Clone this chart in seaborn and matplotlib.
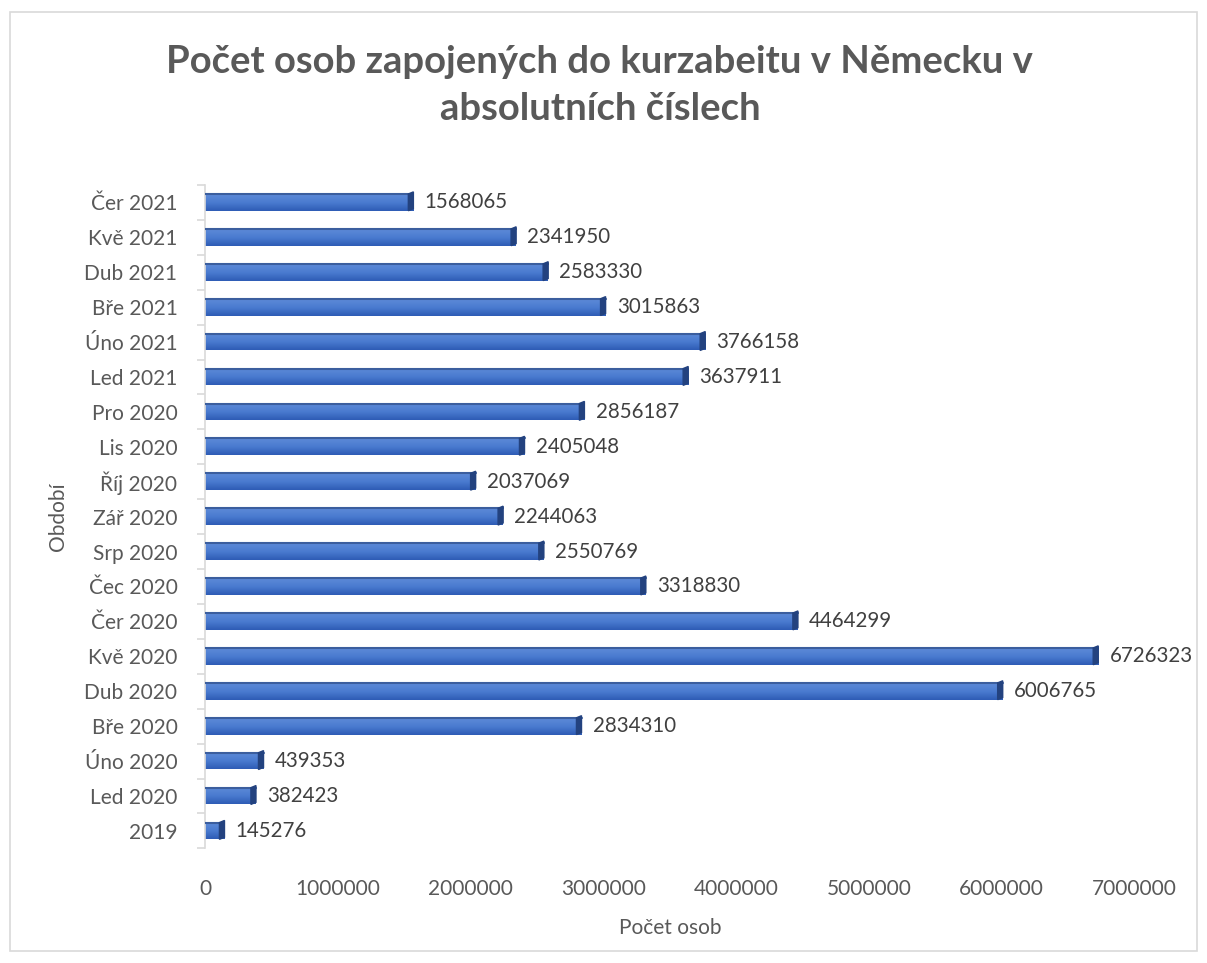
import numpy as np
import pandas as pd
import seaborn as sns
import matplotlib.pyplot as plt
from matplotlib.patches import Rectangle, Polygon
from matplotlib.colors import LinearSegmentedColormap

periods = ["Čer 2021", "Kvě 2021", "Dub 2021", "Bře 2021", "Úno 2021", "Led 2021",
           "Pro 2020", "Lis 2020", "Říj 2020", "Zář 2020", "Srp 2020", "Čec 2020",
           "Čer 2020", "Kvě 2020", "Dub 2020", "Bře 2020", "Úno 2020", "Led 2020", "2019"]
persons = [1568065, 2341950, 2583330, 3015863, 3766158, 3637911,
           2856187, 2405048, 2037069, 2244063, 2550769, 3318830,
           4464299, 6726323, 6006765, 2834310, 439353, 382423, 145276]
x_ticks = [0, 1000000, 2000000, 3000000, 4000000, 5000000, 6000000, 7000000]

df = pd.DataFrame({"Období": periods, "Počet osob": persons})

sns.set_theme(style="white")
plt.rcParams["font.family"] = ["Lato", "DejaVu Sans"]
text_col = "#595959"

fig = plt.figure(figsize=(12.07, 9.63), dpi=100)
ax = fig.add_axes([0.170, 0.119, 0.770, 0.689])

sns.barplot(data=df, x="Počet osob", y="Období", orient="h", ax=ax,
            color="#4472C4", width=0.48, saturation=1)

# Excel-like 3D look: vertical gradient inside each bar + dark end cap
grad = LinearSegmentedColormap.from_list("bar", ["#5D8AD8", "#4A7BD0", "#2E5CB5"])
depth = 38000
for p, v in zip(ax.patches, persons):
    x0, y0 = p.get_x(), p.get_y()
    w, h = p.get_width(), p.get_height()
    p.set_facecolor("none")
    p.set_edgecolor("none")
    img = ax.imshow(np.linspace(0, 1, 50).reshape(-1, 1), cmap=grad, aspect="auto",
                    extent=(x0, x0 + w, y0 + h, y0), zorder=2)
    img.set_clip_path(Rectangle((x0, y0), w, h, transform=ax.transData))
    ax.plot([x0, x0 + w], [y0, y0], color="#3B5E9E", lw=1.5, zorder=3)
    cap = Polygon([(x0 + w - depth, y0), (x0 + w, y0 - 0.06), (x0 + w, y0 + h - 0.06),
                   (x0 + w - depth, y0 + h)], closed=True, color="#23427F", zorder=3)
    ax.add_patch(cap)
    ax.text(v + 85000, p.get_y() + h / 2, str(v), va="center", ha="left",
            fontsize=14.8, color="#404040")

ax.set_xlim(0, 7000000)
ax.set_ylim(len(periods) - 0.5, -0.5)
ax.set_xticks(x_ticks)
ax.set_xticklabels([str(t) for t in x_ticks], fontsize=15, color=text_col)
ax.tick_params(axis="x", length=0, pad=22)
ax.tick_params(axis="y", which="major", length=0, pad=20, labelsize=15, labelcolor=text_col)
ax.set_yticks(np.arange(-0.5, len(periods)), minor=True)
ax.tick_params(axis="y", which="minor", length=6, width=1.2, color="#D9D9D9", left=True)

for s in ["top", "right", "bottom"]:
    ax.spines[s].set_visible(False)
ax.spines["left"].set_color("#D9D9D9")
ax.spines["left"].set_linewidth(1.2)

ax.set_xlabel("Počet osob", fontsize=15, color=text_col, labelpad=14)
ax.set_ylabel("Období", fontsize=15, color=text_col, labelpad=12)

fig.suptitle("Počet osob zapojených do kurzabeitu v Německu v\nabsolutních číslech",
             x=0.497, y=0.953, fontsize=27.5, fontweight="bold", color=text_col,
             linespacing=1.45)

fig.patches.append(Rectangle((0.008, 0.012), 0.984, 0.976, transform=fig.transFigure,
                             fill=False, edgecolor="#D9D9D9", lw=1.2))

fig.savefig("out.png", dpi=100)
